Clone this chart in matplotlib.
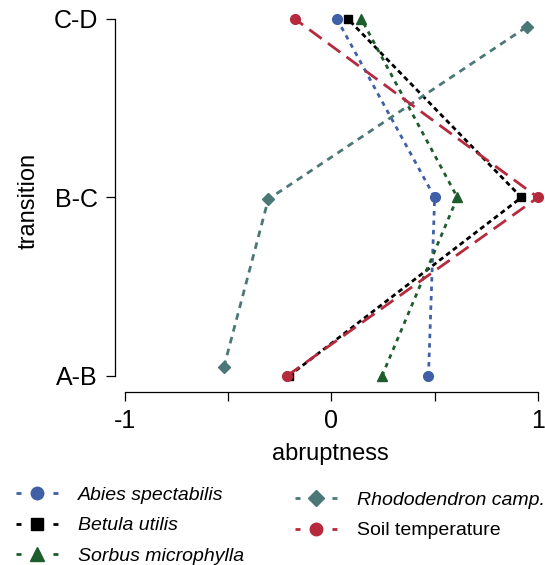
import matplotlib.pyplot as plt
from matplotlib.lines import Line2D

plt.rcParams['font.family'] = ['Liberation Sans', 'DejaVu Sans']

transitions = ["A-B", "B-C", "C-D"]
ypos = [0, 1, 2]
# rhododendron points sit slightly off the transition rows
ypos_rhodo = [0.05, 0.99, 1.955]

abies = [0.47, 0.50, 0.027]
betula = [-0.205, 0.92, 0.08]
sorbus = [0.245, 0.61, 0.145]
rhodo = [-0.52, -0.305, 0.945]
soil = [-0.215, 1.0, -0.177]

series = [
    ("Abies spectabilis", abies, ypos, "#3f5fa6", "o", 7, (1.6, 1.8), True),
    ("Betula utilis", betula, ypos, "black", "s", 6, (1.8, 1.3), True),
    ("Sorbus microphylla", sorbus, ypos, "#1d5c2c", "^", 7.5, (1.6, 1.8), True),
    ("Rhododendron camp.", rhodo, ypos_rhodo, "#4b7876", "D", 6.5, (2.4, 2.0), True),
    ("Soil temperature", soil, ypos, "#b52a3d", "o", 7, (5.5, 2.8), False),
]

fig = plt.figure(figsize=(5.45, 5.65), dpi=100)
ax = fig.add_axes([115 / 545, (565 - 392) / 565, (545 - 115) / 545, (392 - 10) / 565])

handles = []
for name, xs, ys, col, mk, ms, dash, italic in series:
    ax.plot(xs, ys, color=col, linewidth=2, dashes=dash, marker=mk,
            markersize=ms, clip_on=False, zorder=3)
    # legend key: one short dash either side of the marker
    handles.append(Line2D([], [], color=col, linewidth=2, dashes=(1.8, 11.5),
                          marker=mk, markersize=ms + 2))

ax.set_xlim(-1.047, 1.034)
ax.set_ylim(-0.09, 2.05)

for s in ["top", "right"]:
    ax.spines[s].set_visible(False)
ax.spines["left"].set_bounds(0, 2)
ax.spines["bottom"].set_bounds(-1, 1)
ax.spines["left"].set_linewidth(0.9)
ax.spines["bottom"].set_linewidth(0.9)

ax.set_xticks([-1, -0.5, 0, 0.5, 1])
ax.set_xticklabels(["-1", "", "0", "", "1"])
ax.set_yticks(ypos)
ax.set_yticklabels(transitions)
ax.tick_params(axis="both", labelsize=18, length=6.5, width=0.9, pad=6)

ax.set_xlabel("abruptness", fontsize=17, labelpad=7)
ax.set_ylabel("transition", fontsize=17, labelpad=10)

leg_kw = dict(frameon=False, fontsize=14, handlelength=2.15, handletextpad=1.05,
              labelspacing=0.68, borderaxespad=0, borderpad=0)
leg1 = fig.legend(handles[:3], [s[0] for s in series[:3]], loc="upper left",
                  bbox_to_anchor=(16 / 545, 1 - 486 / 565), **leg_kw)
leg2 = fig.legend(handles[3:], [s[0] for s in series[3:]], loc="upper left",
                  bbox_to_anchor=(295 / 545, 1 - 491 / 565), **leg_kw)
for leg, part in [(leg1, series[:3]), (leg2, series[3:])]:
    for txt, s in zip(leg.get_texts(), part):
        if s[7]:
            txt.set_style("italic")

fig.savefig("out.png", dpi=100)
